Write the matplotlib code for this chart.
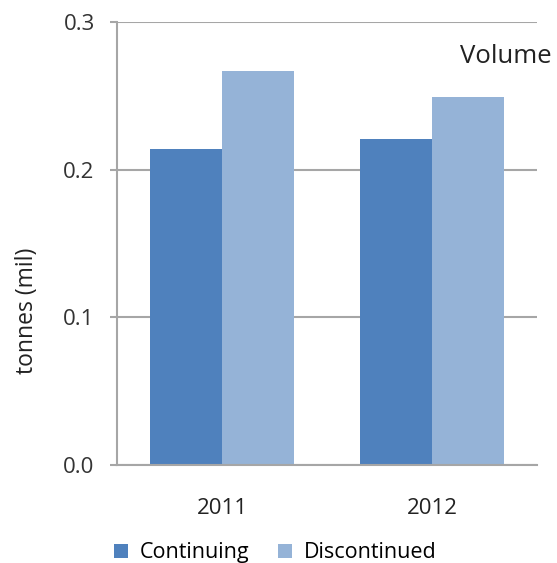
import numpy as np
import matplotlib.pyplot as plt

plt.rcParams['font.family'] = ['Open Sans', 'DejaVu Sans']

years = ['2011', '2012']
continuing = [0.214, 0.221]
discontinued = [0.267, 0.249]
yticks = [0.0, 0.1, 0.2, 0.3]

dark = '#4F81BD'
light = '#95B3D7'
grid = '#A6A6A6'

fig = plt.figure(figsize=(5.57, 5.63), dpi=100)
ax = fig.add_axes([0.21, 0.174, 0.754, 0.787])

x = np.arange(len(years))
w = 0.345
ax.bar(x - w / 2, continuing, w, color=dark, label='Continuing', zorder=3)
ax.bar(x + w / 2, discontinued, w, color=light, label='Discontinued', zorder=3)

ax.set_xlim(-0.5, 1.5)
ax.set_ylim(0, 0.3)
ax.set_yticks(yticks)
ax.set_yticklabels(['%.1f' % v for v in yticks], fontsize=16, color='#333333')
ax.set_xticks(x)
ax.set_xticklabels(years, fontsize=16, color='#222222')
ax.tick_params(axis='x', length=0, pad=24)
ax.tick_params(axis='y', length=5, width=1.5, color=grid, pad=11)

# horizontal gridlines run to the right edge, no frame except the left spine
ax.yaxis.grid(True, color=grid, linewidth=1.5, zorder=0)
for s in ['top', 'right', 'bottom']:
    ax.spines[s].set_visible(False)
ax.spines['left'].set_color(grid)
ax.spines['left'].set_linewidth(1.5)
ax.axhline(0, color=grid, linewidth=1.5, zorder=4, clip_on=False)

ax.text(1.036, 0.923, 'Volume', transform=ax.transAxes, fontsize=18.5,
        ha='right', va='center', color='#222222')
fig.text(0.048, 0.448, 'tonnes (mil)', rotation=90, fontsize=16.5,
         ha='center', va='center', color='#222222')

fig.legend(loc='center', bbox_to_anchor=(0.494, 0.018), ncol=2, frameon=False,
           fontsize=15.5, handlelength=0.65, handleheight=0.65, handletextpad=0.55,
           columnspacing=1.3)

fig.savefig('out.png', dpi=100)
